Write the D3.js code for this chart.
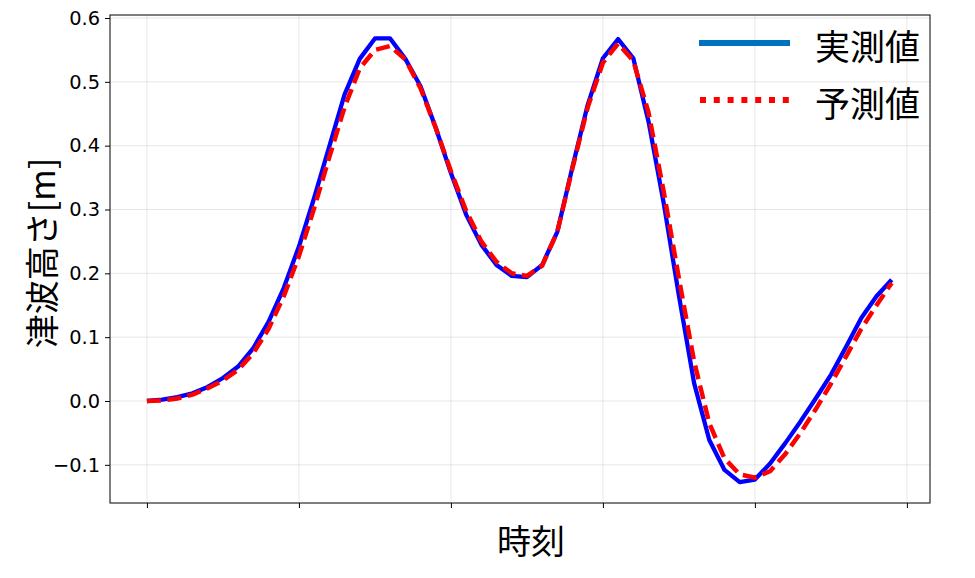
<!DOCTYPE html>
<html lang="ja">
  <head>
    <meta charset="utf-8">
    <title>津波高さ</title>
    <script src="https://cdn.jsdelivr.net/npm/d3@7"></script>
    <style>
      body { margin: 0; background: #fff; }
    </style>
  </head>
  <body>
    <script>

      /*
      DATA
       */

      // time step index (no labels on the x axis)
      const steps = d3.range(0, 50);

      // measured tsunami height [m]
      const measured = [
        0.000, 0.002, 0.006, 0.012, 0.022, 0.036, 0.054, 0.083, 0.124, 0.177,
        0.242, 0.318, 0.399, 0.480, 0.536, 0.568, 0.568, 0.536, 0.493, 0.428,
        0.357, 0.292, 0.245, 0.213, 0.196, 0.194, 0.213, 0.265, 0.367, 0.464,
        0.537, 0.567, 0.537, 0.438, 0.310, 0.165, 0.028, -0.061, -0.108, -0.127,
        -0.123, -0.098, -0.066, -0.032, 0.004, 0.041, 0.085, 0.130, 0.164, 0.190
      ];

      // predicted tsunami height [m]
      const predicted = [
        0.000, 0.001, 0.004, 0.010, 0.020, 0.032, 0.049, 0.075, 0.113, 0.164,
        0.227, 0.302, 0.382, 0.460, 0.521, 0.550, 0.556, 0.535, 0.490, 0.428,
        0.360, 0.298, 0.250, 0.218, 0.200, 0.196, 0.212, 0.265, 0.365, 0.460,
        0.530, 0.560, 0.533, 0.452, 0.328, 0.192, 0.062, -0.035, -0.090, -0.115,
        -0.120, -0.110, -0.083, -0.050, -0.013, 0.027, 0.070, 0.113, 0.150, 0.185
      ];

      const x_ticks = [0, 10, 20, 30, 40, 50];
      const y_ticks = [-0.1, 0.0, 0.1, 0.2, 0.3, 0.4, 0.5, 0.6];
      const series_names = ["実測値", "予測値"];

      /*
      LAYOUT
       */

      const SVG_WIDTH = 975;
      const SVG_HEIGHT = 578;
      const AX_LEFT = 110;
      const AX_RIGHT = 930;
      const AX_TOP = 15;
      const AX_BOTTOM = 503;

      const FONT_TICK = "'DejaVu Sans', sans-serif";
      const FONT_JP = "'Noto Sans CJK JP', 'Noto Sans', sans-serif";

      let svg = d3.select("body").append("svg")
        .attr("width", SVG_WIDTH)
        .attr("height", SVG_HEIGHT)
      ;

      let x = d3.scaleLinear().domain([-2.43, 51.52]).range([AX_LEFT, AX_RIGHT]);
      let y = d3.scaleLinear().domain([-0.1598, 0.6047]).range([AX_BOTTOM, AX_TOP]);

      /* grid */
      let g_grid = svg.append("g");
      g_grid.selectAll("line.gx").data(x_ticks).join("line")
        .attr("x1", d => x(d)).attr("x2", d => x(d))
        .attr("y1", AX_TOP).attr("y2", AX_BOTTOM)
        .attr("stroke", "#b0b0b0").attr("stroke-opacity", 0.3).attr("stroke-width", 1);
      g_grid.selectAll("line.gy").data(y_ticks).join("line")
        .attr("x1", AX_LEFT).attr("x2", AX_RIGHT)
        .attr("y1", d => y(d)).attr("y2", d => y(d))
        .attr("stroke", "#b0b0b0").attr("stroke-opacity", 0.3).attr("stroke-width", 1);

      /* lines */
      let line_gen = d3.line()
        .x((d, i) => x(steps[i]))
        .y(d => y(d));

      svg.append("path")
        .datum(measured)
        .attr("d", line_gen)
        .attr("fill", "none")
        .attr("stroke", "#0000ff")
        .attr("stroke-width", 4.3)
        .attr("stroke-linejoin", "round");

      svg.append("path")
        .datum(predicted)
        .attr("d", line_gen)
        .attr("fill", "none")
        .attr("stroke", "#ff0000")
        .attr("stroke-width", 4.5)
        .attr("stroke-dasharray", "14,6.5");

      /* axes */
      let x_axis = svg.append("g")
        .attr("transform", "translate(0," + AX_BOTTOM + ")")
        .call(d3.axisBottom(x).tickValues(x_ticks).tickFormat("").tickSize(5).tickSizeOuter(0));

      let y_axis = svg.append("g")
        .attr("transform", "translate(" + AX_LEFT + ",0)")
        .call(d3.axisLeft(y).tickValues(y_ticks).tickSize(5).tickSizeOuter(0).tickPadding(5)
          .tickFormat(d => d3.format(".1f")(d).replace("-", "\u2212")));

      y_axis.selectAll("text")
        .attr("font-family", FONT_TICK)
        .attr("font-size", "19.4px")
        .attr("fill", "#000");
      svg.selectAll(".domain").remove();
      svg.selectAll(".tick line").attr("stroke", "#000").attr("stroke-width", 1);

      // frame
      svg.append("rect")
        .attr("x", AX_LEFT).attr("y", AX_TOP)
        .attr("width", AX_RIGHT - AX_LEFT).attr("height", AX_BOTTOM - AX_TOP)
        .attr("fill", "none").attr("stroke", "#000").attr("stroke-width", 1);

      /* labels */
      svg.append("text")
        .attr("transform", "translate(40,253) rotate(-90)")
        .attr("text-anchor", "middle")
        .attr("dominant-baseline", "central")
        .attr("font-family", FONT_JP)
        .attr("font-size", "34px")
        .text("津波高さ[m]");

      svg.append("text")
        .attr("x", 531).attr("y", 539)
        .attr("text-anchor", "middle")
        .attr("dominant-baseline", "central")
        .attr("font-family", FONT_JP)
        .attr("font-size", "34px")
        .text("時刻");

      /* legend */
      let g_legend = svg.append("g");
      const LEG_Y = [43, 100];
      g_legend.append("line")
        .attr("x1", 699).attr("x2", 790).attr("y1", LEG_Y[0]).attr("y2", LEG_Y[0])
        .attr("stroke", "#0070c0").attr("stroke-width", 6);
      g_legend.append("line")
        .attr("x1", 700).attr("x2", 790).attr("y1", LEG_Y[1]).attr("y2", LEG_Y[1])
        .attr("stroke", "#ff0000").attr("stroke-width", 6).attr("stroke-dasharray", "6,7.8");
      g_legend.selectAll("text").data(series_names).join("text")
        .attr("x", 815)
        .attr("y", (d, i) => LEG_Y[i] + 1)
        .attr("dominant-baseline", "central")
        .attr("font-family", FONT_JP)
        .attr("font-size", "35px")
        .text(d => d);

    </script>
  </body>
</html>
